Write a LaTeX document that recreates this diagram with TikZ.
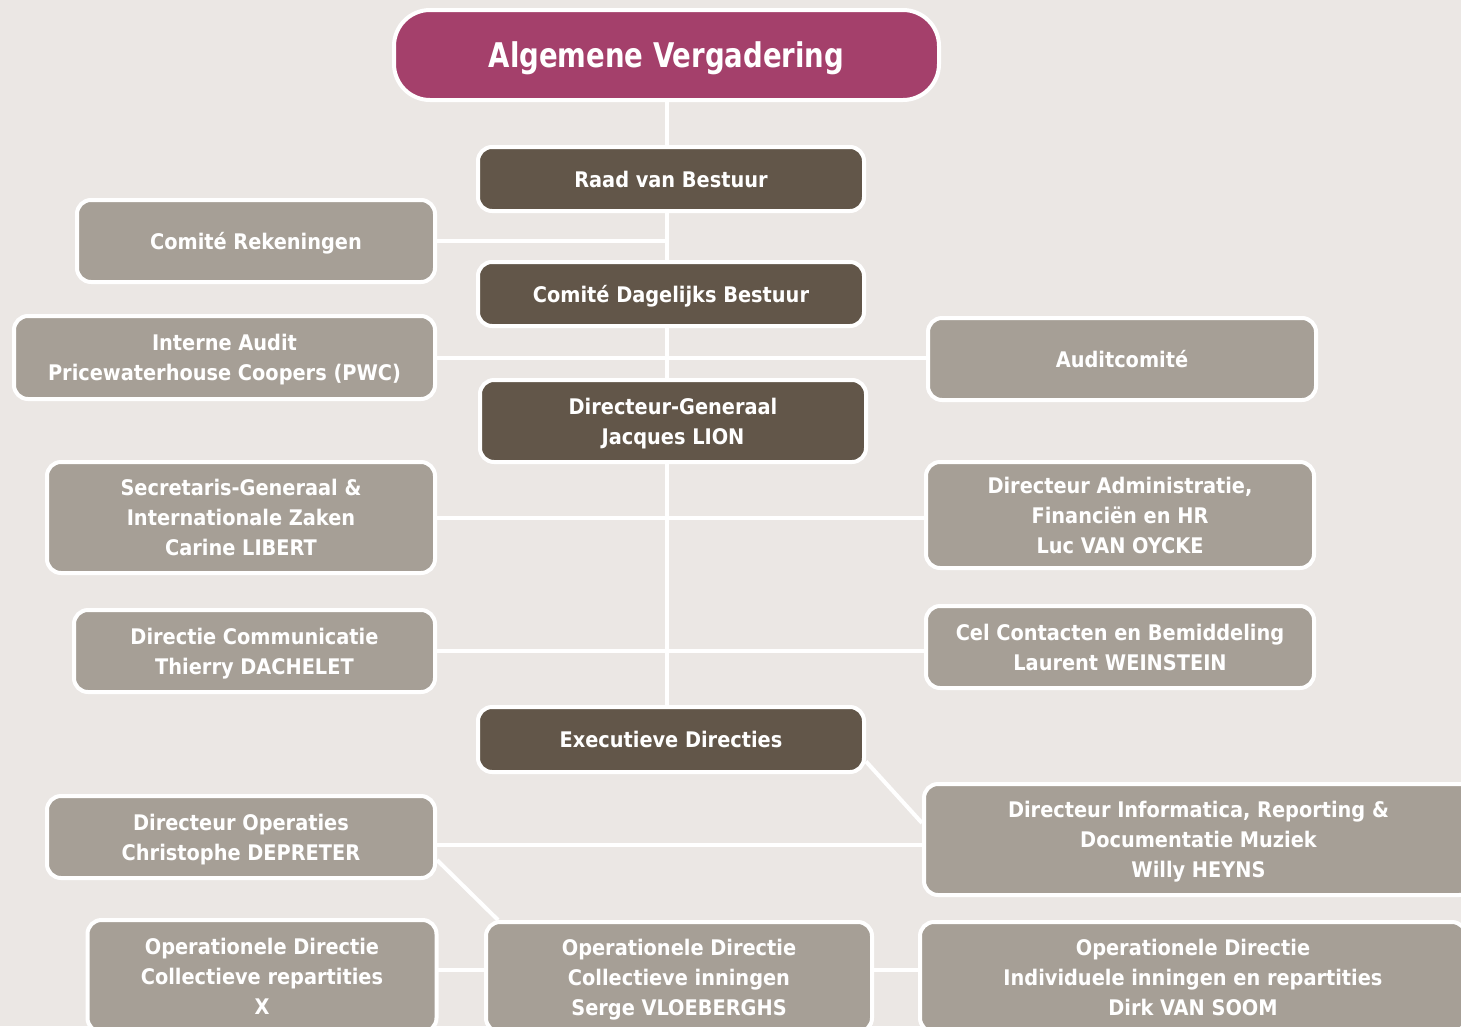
\documentclass[tikz,border=0pt]{standalone}
\usepackage{fontspec}
\newfontfamily\orgfont{DejaVu Sans Condensed}
\newfontfamily\titlefont{DejaVu Sans Condensed}[FakeStretch=0.9]
\usepackage{tikz}
\usetikzlibrary{positioning,backgrounds}

\definecolor{pagebg}{HTML}{EBE7E4}
\definecolor{plum}{HTML}{A4406B}
\definecolor{darkbrown}{HTML}{625649}
\definecolor{warmgrey}{HTML}{A69F96}

\begin{document}
\begin{tikzpicture}[x=1pt,y=-1pt,
box/.style={rectangle,rounded corners=14pt,draw=white,line width=4pt,text=white,align=center,inner sep=0pt,text depth=0pt,font=\orgfont\bfseries\fontsize{21.5}{30}\selectfont},
darknode/.style={box,fill=darkbrown},
greynode/.style={box,fill=warmgrey},
topnode/.style={box,fill=plum,rounded corners=36pt,font=\titlefont\bfseries\fontsize{34}{40}\selectfont},
link/.style={draw=white,line width=4pt}]

\useasboundingbox (0,0) rectangle (1461,1026);
\clip (0,0) rectangle (1461,1026);

\node [topnode,minimum width=545pt,minimum height=90pt] (0) at (666.5, 55) {Algemene Vergadering};
\node [darknode,minimum width=386pt,minimum height=64pt] (1) at (671, 179) {Raad van Bestuur};
\node [greynode,minimum width=358pt,minimum height=82pt] (2) at (256, 241) {Comité Rekeningen};
\node [darknode,minimum width=386pt,minimum height=64pt] (3) at (671, 294) {Comité Dagelijks Bestuur};
\node [greynode,minimum width=421pt,minimum height=83pt] (4) at (224.5, 357.5) {Interne Audit\\Pricewaterhouse Coopers (PWC)};
\node [greynode,minimum width=388pt,minimum height=82pt] (5) at (1122, 359) {Auditcomité};
\node [darknode,minimum width=386pt,minimum height=82pt] (6) at (673, 421) {Directeur-Generaal\\Jacques LION};
\node [greynode,minimum width=388pt,minimum height=111pt] (7) at (241, 517.5) {Secretaris-Generaal \&\\Internationale Zaken\\Carine LIBERT};
\node [greynode,minimum width=388pt,minimum height=106pt] (8) at (1120, 515) {Directeur Administratie,\\Financiën en HR\\Luc VAN OYCKE};
\node [greynode,minimum width=361pt,minimum height=82pt] (9) at (254.5, 651) {Directie Communicatie\\Thierry DACHELET};
\node [greynode,minimum width=388pt,minimum height=82pt] (10) at (1120, 647) {Cel Contacten en Bemiddeling\\Laurent WEINSTEIN};
\node [darknode,minimum width=386pt,minimum height=65pt] (11) at (671, 739.5) {Executieve Directies};
\node [greynode,minimum width=549pt,minimum height=111pt] (12) at (1198.5, 839.5) {Directeur Informatica, Reporting \&\\Documentatie Muziek\\Willy HEYNS};
\node [greynode,minimum width=388pt,minimum height=82pt] (13) at (241, 837) {Directeur Operaties\\Christophe DEPRETER};
\node [greynode,minimum width=349pt,minimum height=112pt] (14) at (262, 976) {Operationele Directie\\Collectieve repartities\\X};
\node [greynode,minimum width=386pt,minimum height=110pt] (15) at (679, 977) {Operationele Directie\\Collectieve inningen\\Serge VLOEBERGHS};
\node [greynode,minimum width=546pt,minimum height=110pt] (16) at (1193, 977) {Operationele Directie\\Individuele inningen en repartities\\Dirk VAN SOOM};

\begin{scope}[on background layer]
\fill [pagebg] (0,0) rectangle (1461,1026);
\draw [link] (0) -- (0 |- 11);
\draw [link] (2) -- (2 -| 0);
\draw [link] (4) -- (4 -| 5);
\draw [link] (7) -- (7 -| 8);
\draw [link] (9) -- (9 -| 10);
\draw [link] ([yshift=-8pt]13.center) -- ([yshift=-8pt]13.center -| 12);
\draw [link] ([yshift=-22pt]11.east) -- ([yshift=-41pt]12.north west);
\draw [link] ([yshift=-23pt]13.east) -- ([xshift=14pt]15.north west);
\draw [link] ([yshift=6pt]14.center) -- ([yshift=6pt]14.center -| 16);
\end{scope}
\end{tikzpicture}
\end{document}
